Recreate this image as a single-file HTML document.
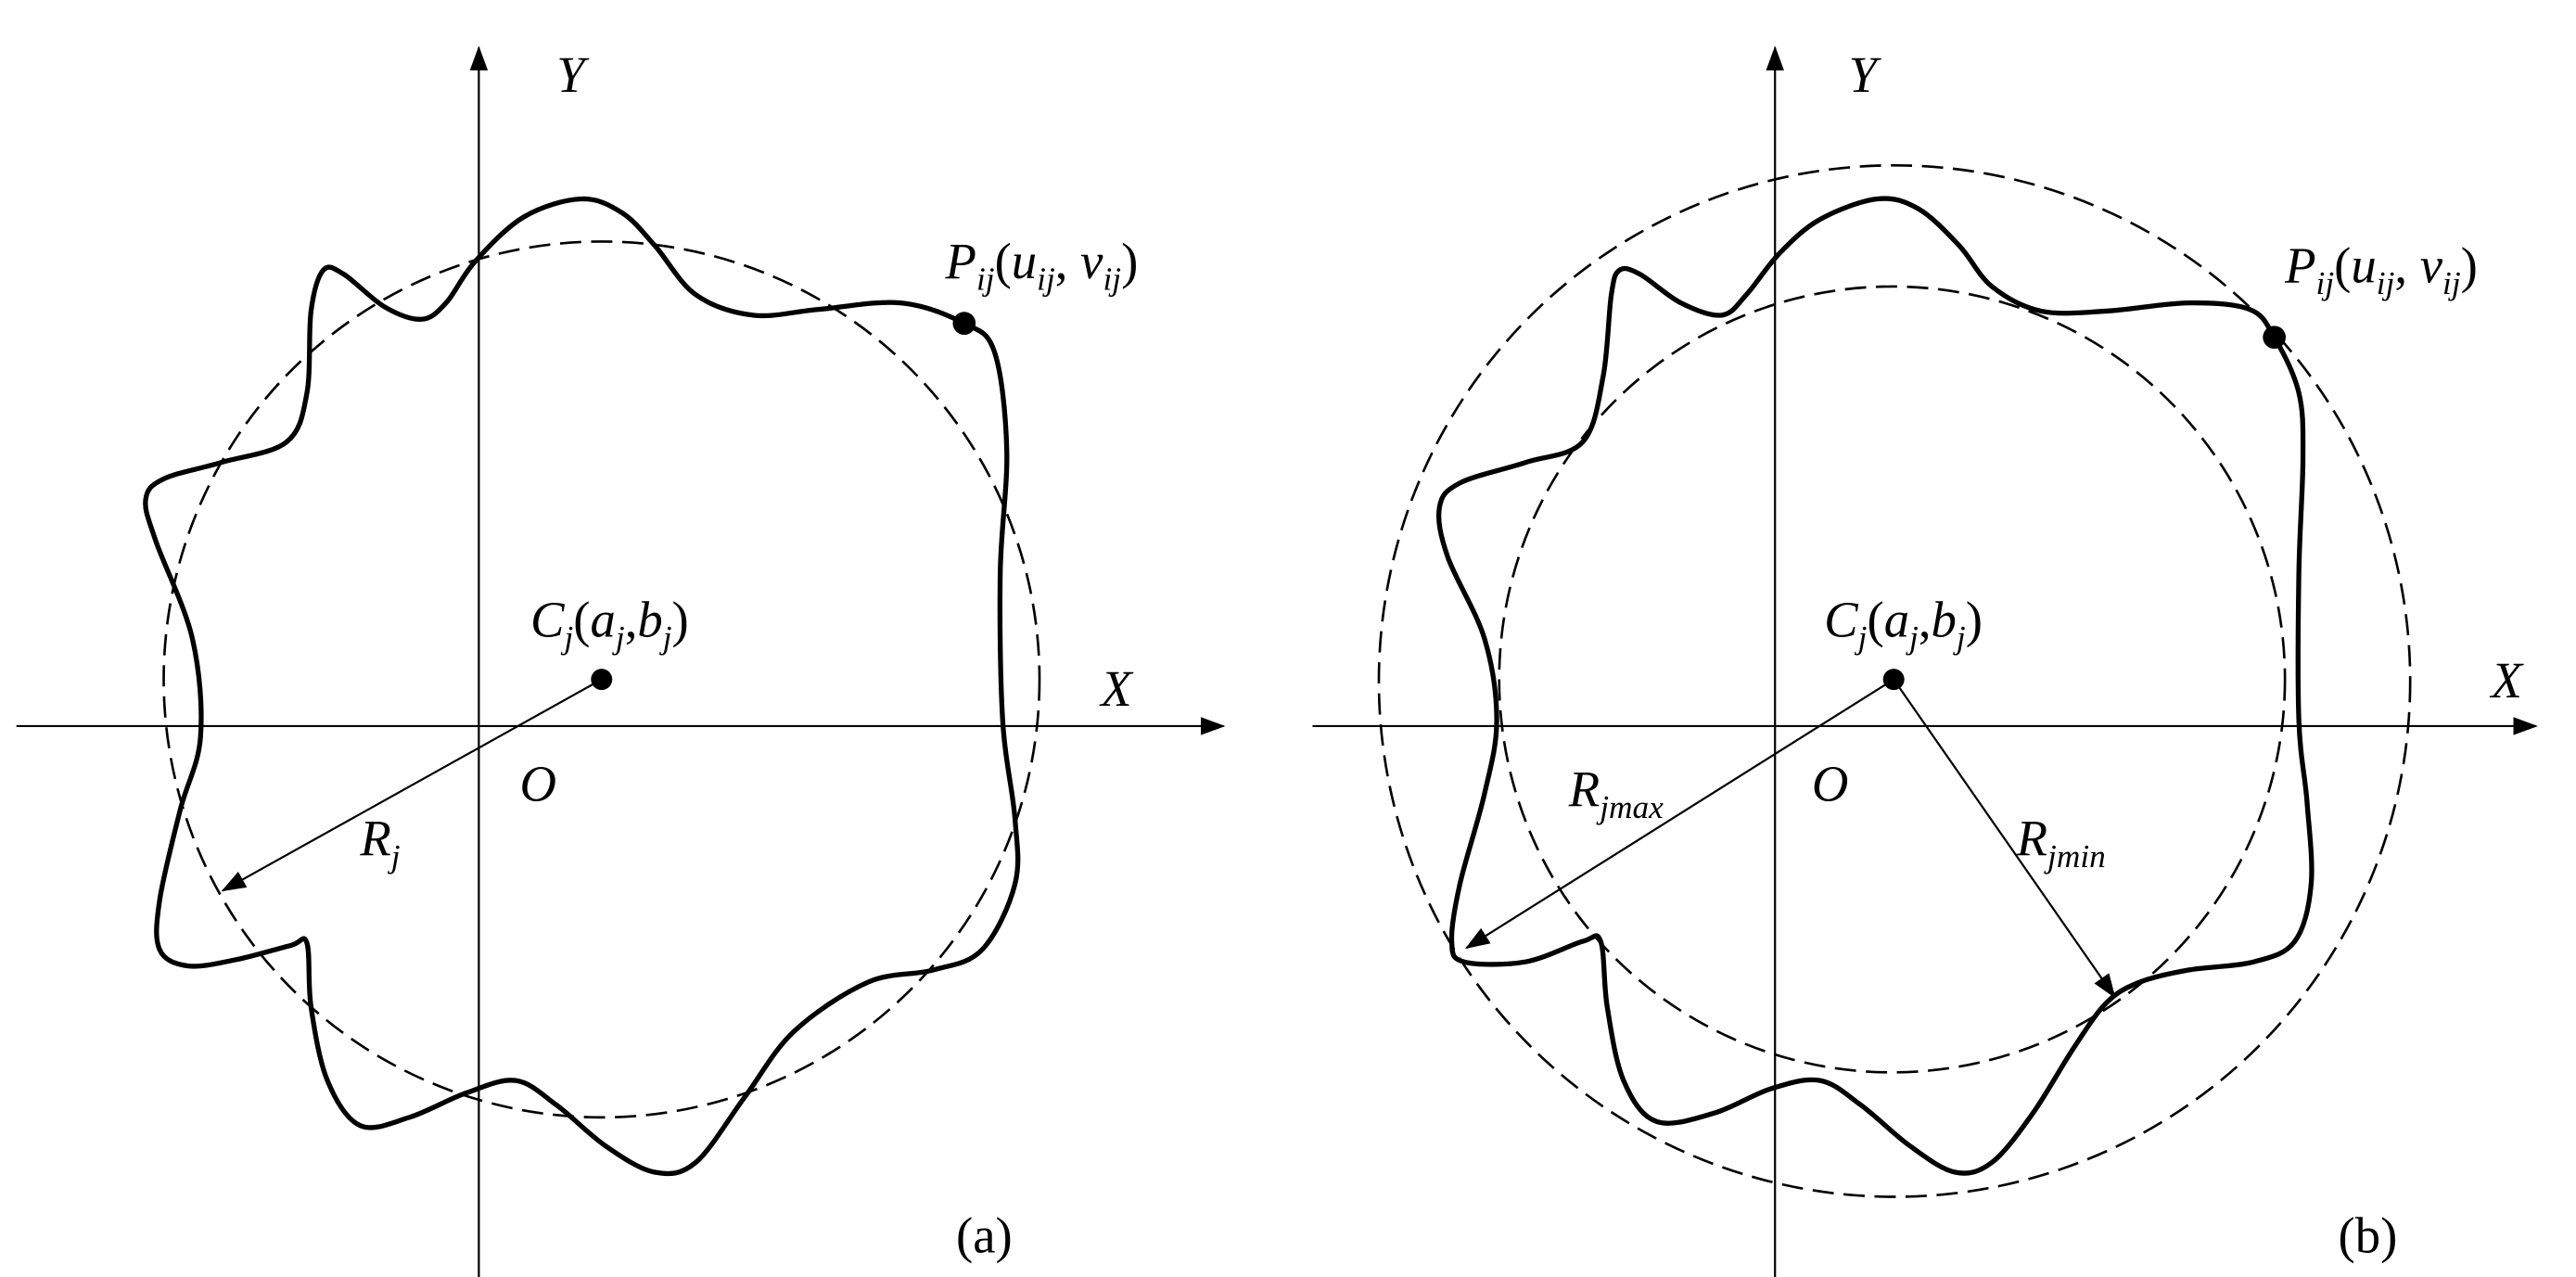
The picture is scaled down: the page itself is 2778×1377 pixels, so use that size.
<!DOCTYPE html>
<html><head><meta charset="utf-8"><style>
html,body{margin:0;padding:0;background:#fff;}
svg{display:block;}
text{font-family:"Liberation Serif","Times New Roman",serif;fill:#000;}
</style></head><body>
<svg id="s" width="2778" height="1377" viewBox="0 0 2778 1377" xmlns="http://www.w3.org/2000/svg">
<defs>
<marker id="ar" markerWidth="30" markerHeight="22" refX="28" refY="11" orient="auto" markerUnits="userSpaceOnUse" viewBox="0 0 30 22">
<path d="M0,0 L30,11 L0,22 z" fill="#000"/></marker>
</defs>
<g transform="scale(0.8827)">
  <line x1="585" y1="1560" x2="585" y2="58" stroke="#000" stroke-width="2.5" marker-end="url(#ar)"/>
  <line x1="20" y1="887" x2="1495" y2="887" stroke="#000" stroke-width="2.5" marker-end="url(#ar)"/>
  <circle cx="735" cy="830" r="535" fill="none" stroke="#000" stroke-width="3" stroke-dasharray="26,12"/>
  <path id="c1" fill="none" stroke="#000" stroke-width="6"/>
  <line x1="735" y1="830" x2="272" y2="1088" stroke="#000" stroke-width="2.5" marker-end="url(#ar)"/>
  <circle cx="735" cy="830" r="13" fill="#000"/>
  <circle cx="1178" cy="395" r="14" fill="#000"/>
  <text x="680" y="112" font-size="62" style="font-style:italic">Y</text>
  <text x="1345" y="862" font-size="62" style="font-style:italic">X</text>
  <text x="635" y="978" font-size="62" style="font-style:italic">O</text>
  <text x="440" y="1045" font-size="62" style="font-style:italic">R<tspan font-size="40" dy="14">j</tspan></text>
  <text x="648" y="778" font-size="62" style="font-style:italic">C<tspan font-size="40" dy="14">j</tspan><tspan dy="-14" style="font-style:normal">(</tspan>a<tspan font-size="40" dy="14">j</tspan><tspan dy="-14" style="font-style:normal">,</tspan>b<tspan font-size="40" dy="14">j</tspan><tspan dy="-14" style="font-style:normal">)</tspan></text>
  <text x="1155" y="340" font-size="62" style="font-style:italic">P<tspan font-size="40" dy="14">ij</tspan><tspan dy="-14" style="font-style:normal">(</tspan>u<tspan font-size="40" dy="14">ij</tspan><tspan dy="-14" style="font-style:normal">,</tspan> v<tspan font-size="40" dy="14">ij</tspan><tspan dy="-14" style="font-style:normal">)</tspan></text>
  <text x="1168" y="1530" font-size="62" style="font-style:normal">(a)</text>
</g>
<g transform="translate(1389,0) scale(0.8827)">
  <line x1="595" y1="1560" x2="595" y2="58" stroke="#000" stroke-width="2.5" marker-end="url(#ar)"/>
  <line x1="30" y1="887" x2="1525" y2="887" stroke="#000" stroke-width="2.5" marker-end="url(#ar)"/>
  <circle cx="741" cy="832" r="630" fill="none" stroke="#000" stroke-width="3" stroke-dasharray="26,12"/>
  <circle cx="738" cy="830" r="480" fill="none" stroke="#000" stroke-width="3" stroke-dasharray="26,12"/>
  <path id="c2" fill="none" stroke="#000" stroke-width="6"/>
  <line x1="740" y1="830" x2="218" y2="1158" stroke="#000" stroke-width="2.5" marker-end="url(#ar)"/>
  <line x1="740" y1="830" x2="1010" y2="1218" stroke="#000" stroke-width="2.5" marker-end="url(#ar)"/>
  <circle cx="740" cy="830" r="13" fill="#000"/>
  <circle cx="1205" cy="412" r="14" fill="#000"/>
  <text x="685" y="112" font-size="62" style="font-style:italic">Y</text>
  <text x="1470" y="852" font-size="62" style="font-style:italic">X</text>
  <text x="640" y="978" font-size="62" style="font-style:italic">O</text>
  <text x="343" y="985" font-size="62" style="font-style:italic">R<tspan font-size="40" dy="14">jmax</tspan></text>
  <text x="890" y="1045" font-size="62" style="font-style:italic">R<tspan font-size="40" dy="14">jmin</tspan></text>
  <text x="655" y="778" font-size="62" style="font-style:italic">C<tspan font-size="40" dy="14">j</tspan><tspan dy="-14" style="font-style:normal">(</tspan>a<tspan font-size="40" dy="14">j</tspan><tspan dy="-14" style="font-style:normal">,</tspan>b<tspan font-size="40" dy="14">j</tspan><tspan dy="-14" style="font-style:normal">)</tspan></text>
  <text x="1218" y="345" font-size="62" style="font-style:italic">P<tspan font-size="40" dy="14">ij</tspan><tspan dy="-14" style="font-style:normal">(</tspan>u<tspan font-size="40" dy="14">ij</tspan><tspan dy="-14" style="font-style:normal">,</tspan> v<tspan font-size="40" dy="14">ij</tspan><tspan dy="-14" style="font-style:normal">)</tspan></text>
  <text x="1283" y="1530" font-size="62" style="font-style:normal">(b)</text>
</g>
</svg>
<script>
function cr(p){var n=p.length,d="M"+p[0][0]+","+p[0][1];
for(var i=0;i<n;i++){var p0=p[(i-1+n)%n],p1=p[i],p2=p[(i+1)%n],p3=p[(i+2)%n];
d+=" C"+(p1[0]+(p2[0]-p0[0])/6)+","+(p1[1]+(p2[1]-p0[1])/6)+" "+(p2[0]-(p3[0]-p1[0])/6)+","+(p2[1]-(p3[1]-p1[1])/6)+" "+p2[0]+","+p2[1];}
return d+"Z";}
var a=[[1178,395],[1215,430],[1230,550],[1222,700],[1225,880],[1240,1000],[1240,1080],[1200,1160],[1140,1185],[1060,1200],[970,1260],[910,1340],[850,1420],[800,1432],[740,1400],[680,1350],[630,1320],[570,1335],[500,1365],[440,1375],[400,1320],[380,1230],[375,1152],[355,1155],[290,1172],[230,1180],[195,1160],[195,1100],[220,990],[245,900],[235,780],[190,660],[178,610],[200,585],[270,565],[350,540],[375,480],[380,380],[395,330],[420,335],[470,375],[515,390],[545,370],[580,320],[640,265],[710,243],[760,260],[800,300],[850,360],[920,385],[1000,378],[1100,370]];
var b=[[1205,412],[1235,480],[1240,560],[1235,700],[1235,880],[1245,980],[1250,1080],[1230,1150],[1180,1175],[1100,1185],[1040,1200],[1000,1225],[960,1280],[910,1360],[860,1420],[815,1432],[760,1400],[700,1350],[650,1320],[590,1330],[520,1360],[450,1370],[410,1320],[390,1230],[382,1150],[360,1150],[290,1175],[215,1175],[200,1150],[210,1080],[240,970],[255,880],[240,780],[195,680],[185,620],[210,590],[290,565],[360,540],[385,460],[395,360],[405,330],[430,335],[480,370],[530,385],[560,360],[600,310],[650,268],[720,243],[770,255],[820,300],[860,350],[920,380],[1000,380],[1100,370],[1175,378]];
document.getElementById("c1").setAttribute("d",cr(a));
document.getElementById("c2").setAttribute("d",cr(b));
</script>
</body></html>
